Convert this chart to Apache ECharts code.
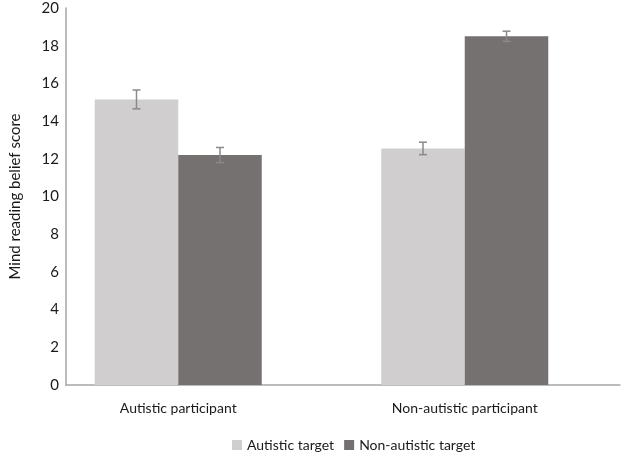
<!DOCTYPE html>
<html><head><meta charset="utf-8">
<script src="https://cdn.jsdelivr.net/npm/echarts@6/dist/echarts.min.js"></script>
<style>html,body{margin:0;padding:0;background:#fff}#c{width:624px;height:456px}</style>
</head><body><div id="c"></div>
<script>
const categories = ['Autistic participant', 'Non-autistic participant'];
const seriesNames = ['Autistic target', 'Non-autistic target'];
const autisticTarget = [15.15, 12.55];
const nonAutisticTarget = [12.2, 18.5];
const autisticTargetErr = [0.5, 0.33];
const nonAutisticTargetErr = [0.4, 0.27];
const yTicks = [0, 2, 4, 6, 8, 10, 12, 14, 16, 18, 20];

const FONT = 'Lato';
const colors = ['#D0CECE', '#767171'];
const catGap = 0.417;

function errSeries(idx, vals, errs) {
  return {
    type: 'custom', xAxisIndex: 0, yAxisIndex: 0, z: 10, silent: true,
    data: vals.map((v, i) => [i, v - errs[i], v + errs[i]]),
    renderItem: function (params, api) {
      const band = api.size([1, 0])[0];
      const bw = band * (1 - catGap) / 2;
      const c = api.coord([api.value(0), 0]);
      const x = c[0] + (idx === 0 ? -bw / 2 : bw / 2);
      const lo = api.coord([api.value(0), api.value(1)])[1];
      const hi = api.coord([api.value(0), api.value(2)])[1];
      const cap = 4;
      const st = { stroke: '#8a8a8a', lineWidth: 1.5 };
      return { type: 'group', children: [
        { type: 'line', shape: { x1: x, y1: lo, x2: x, y2: hi }, style: st },
        { type: 'line', shape: { x1: x - cap, y1: lo, x2: x + cap, y2: lo }, style: st },
        { type: 'line', shape: { x1: x - cap, y1: hi, x2: x + cap, y2: hi }, style: st }
      ]};
    }
  };
}

const chart = echarts.init(document.getElementById('c'), null, { renderer: 'canvas' });
chart.setOption({
  animation: false,
  textStyle: { fontFamily: FONT },
  grid: [
    { left: 35, right: 16, top: 8, bottom: 71 },
    { left: 50, right: 4, top: 8, bottom: 71 }
  ],
  legend: {
    left: 227, top: 433, itemWidth: 10, itemHeight: 10, itemGap: 10,
    icon: 'rect',
    textStyle: { fontFamily: FONT, fontSize: 14, color: '#1a1a1a' },
    data: seriesNames
  },
  xAxis: [
    { type: 'category', gridIndex: 0, data: categories,
      axisLine: { show: false }, axisTick: { show: false },
      axisLabel: { fontFamily: FONT, fontSize: 14, color: '#1a1a1a', margin: 16 } },
    { type: 'category', gridIndex: 1, data: categories,
      axisLine: { lineStyle: { color: '#a6a6a6', width: 1.5 } },
      axisTick: { show: false }, axisLabel: { show: false } }
  ],
  yAxis: [
    { type: 'value', gridIndex: 0, min: 0, max: 20, interval: 2, show: false, splitLine: { show: false } },
    { type: 'value', gridIndex: 1, min: yTicks[0], max: yTicks[yTicks.length - 1], interval: 2,
      axisLine: { show: true, lineStyle: { color: '#a6a6a6', width: 1.5 } },
      axisTick: { show: false }, splitLine: { show: false },
      axisLabel: { fontFamily: FONT, fontSize: 15, color: '#1a1a1a', margin: 7 },
      name: 'Mind reading belief score', nameLocation: 'middle', nameGap: 43,
      nameTextStyle: { fontFamily: FONT, fontSize: 15, color: '#1a1a1a' } }
  ],
  series: [
    { name: seriesNames[0], type: 'bar', xAxisIndex: 0, yAxisIndex: 0, data: autisticTarget,
      itemStyle: { color: colors[0] }, barGap: '0%', barCategoryGap: (catGap * 100) + '%' },
    { name: seriesNames[1], type: 'bar', xAxisIndex: 0, yAxisIndex: 0, data: nonAutisticTarget,
      itemStyle: { color: colors[1] }, barGap: '0%', barCategoryGap: (catGap * 100) + '%' },
    errSeries(0, autisticTarget, autisticTargetErr),
    errSeries(1, nonAutisticTarget, nonAutisticTargetErr)
  ]
});
</script></body></html>
